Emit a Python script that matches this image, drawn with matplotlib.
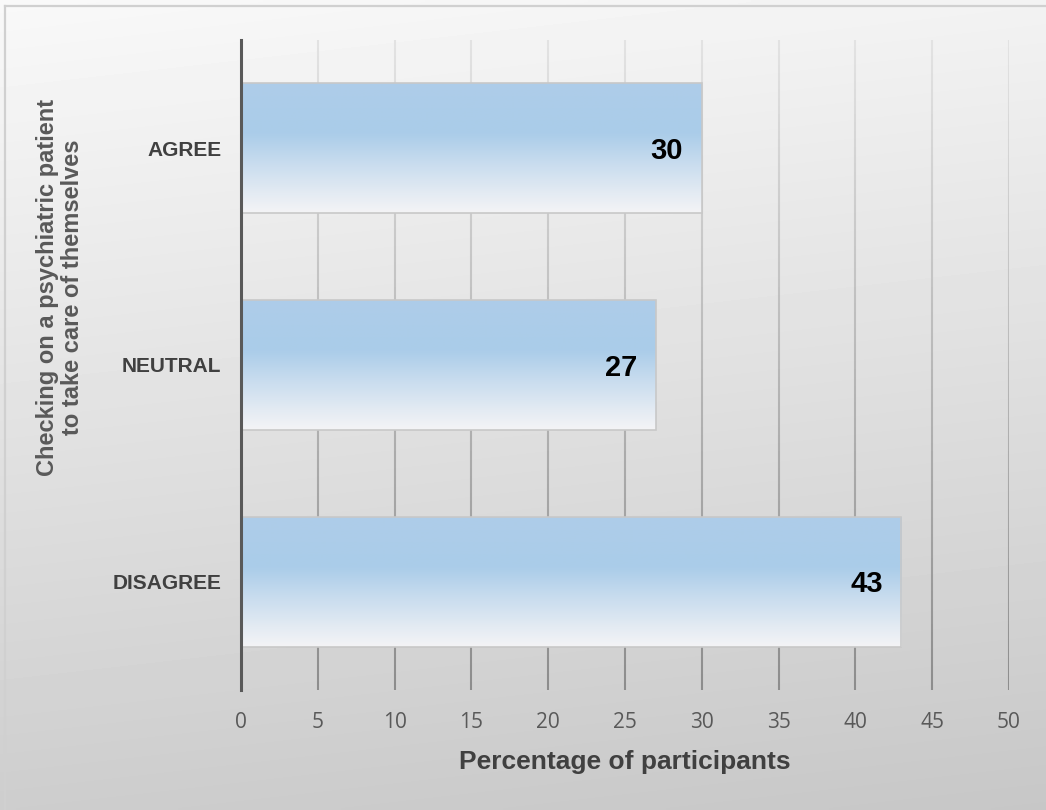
import numpy as np
import matplotlib
matplotlib.use("Agg")
import matplotlib.pyplot as plt
from matplotlib.colors import LinearSegmentedColormap
from matplotlib.collections import LineCollection
from matplotlib.lines import Line2D

# data
categories = ["AGREE", "NEUTRAL", "DISAGREE"]
values = [30, 27, 43]
x_ticks = [0, 5, 10, 15, 20, 25, 30, 35, 40, 45, 50]
y_title = "Checking on a psychiatric patient\nto take care of themselves"
x_title = "Percentage of participants"

W, H = 1046, 810
fig = plt.figure(figsize=(W / 100, H / 100), dpi=100)

# figure background: light at top, grey at bottom
bg = fig.add_axes([0, 0, 1, 1], zorder=-10)
ty = np.linspace(0, 1, 200)[:, None]
tx = np.linspace(0, 1, 200)[None, :]
shade = 0.975 - 0.17 * ty - 0.025 * tx
bg.imshow(shade, cmap="gray", vmin=0, vmax=1, extent=(0, 1, 0, 1),
          aspect="auto", origin="upper", interpolation="bilinear")
bg.set_xlim(0, 1)
bg.set_ylim(0, 1)
bg.axis("off")

# thin border (top and left visible in the reference)
fig.add_artist(Line2D([5 / W, 5 / W], [0, 1 - 6 / H], transform=fig.transFigure,
                      color="#d0d0d0", lw=1.6))
fig.add_artist(Line2D([5 / W, 1], [1 - 6 / H, 1 - 6 / H], transform=fig.transFigure,
                      color="#d0d0d0", lw=1.6))

ax = fig.add_axes([241 / W, 120 / H, 768 / W, 650 / H])
ax.set_facecolor("none")

bars = ax.barh(categories, values, height=0.6, color="none",
               edgecolor="#c8c8c8", linewidth=1.2, zorder=3)

# bar gradient fill
bar_cmap = LinearSegmentedColormap.from_list(
    "barfill",
    [(0.0, "#aecde9"), (0.38, "#aacce9"), (0.6, "#c6dbee"),
     (0.85, "#e4ebf3"), (1.0, "#f4f4f6")])
grad = np.linspace(0, 1, 256)[:, None]
for p in bars.patches:
    x0, y0, w, h = p.get_x(), p.get_y(), p.get_width(), p.get_height()
    im = ax.imshow(grad, cmap=bar_cmap, vmin=0, vmax=1, aspect="auto",
                   extent=(x0, x0 + w, y0 + h, y0), origin="upper",
                   interpolation="bilinear", zorder=2)
    im.set_clip_path(p)
ax.set_xlim(0, 50)
ax.set_ylim(2.5, -0.5)

# vertical gridlines, lighter at top, darker at bottom
grid_cmap = LinearSegmentedColormap.from_list("grid", ["#e2e2e2", "#8c8c8c"])
segs, cols = [], []
ys = np.linspace(-0.5, 2.5, 80)
for xt in x_ticks[1:]:
    for i in range(len(ys) - 1):
        segs.append([(xt, ys[i]), (xt, ys[i + 1])])
        cols.append((ys[i] + 0.5) / 3.0)
lc = LineCollection(segs, cmap=grid_cmap, linewidths=1.5, zorder=1)
lc.set_array(np.array(cols))
lc.set_clim(0, 1)
ax.add_collection(lc)

# value labels
for p, v in zip(bars.patches, values):
    ax.annotate(str(v), (v, p.get_y() + p.get_height() / 2),
                xytext=(-13.5, -2), textcoords="offset points",
                ha="right", va="center", fontsize=21, fontweight="bold",
                family="Liberation Sans", color="black", zorder=4)

ax.set_xticks(x_ticks)
ax.set_xticklabels([str(t) for t in x_ticks], family="Open Sans",
                   fontsize=15, color="#595959")
ax.set_yticks(range(len(categories)))
ax.set_yticklabels(categories, family="Liberation Sans", fontweight="bold",
                   fontsize=15, color="#404040")
ax.tick_params(axis="x", length=0, pad=16)
ax.tick_params(axis="y", length=0, pad=14)

for side in ["top", "right", "bottom"]:
    ax.spines[side].set_visible(False)
ax.spines["left"].set_color("#595959")
ax.spines["left"].set_linewidth(2.2)
ax.spines["left"].set_zorder(5)

ax.set_xlabel(x_title, family="Liberation Sans", fontweight="bold",
              fontsize=19, color="#404040", labelpad=12)
ax.set_ylabel(y_title, family="Liberation Sans", fontweight="bold",
              fontsize=17, color="#595959", linespacing=1.1)
ax.yaxis.set_label_coords(-0.205, 0.62)

fig.savefig("out.png", dpi=100)
